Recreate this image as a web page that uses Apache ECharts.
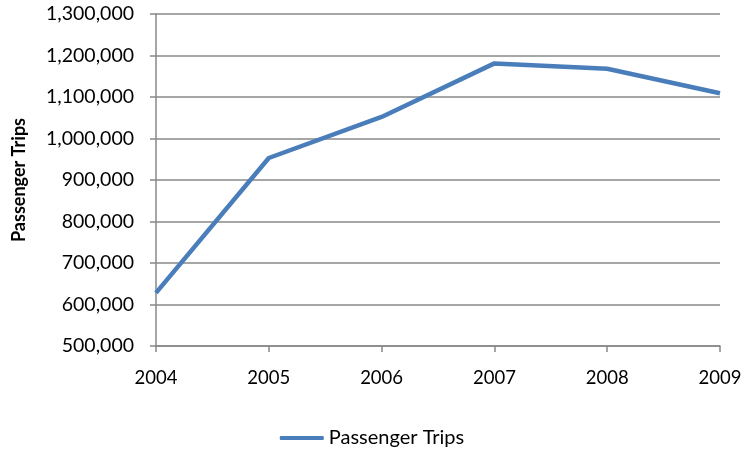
<!DOCTYPE html>
<html>
<head>
<meta charset="utf-8">
<script src="https://cdn.jsdelivr.net/npm/echarts@6/dist/echarts.min.js"></script>
<style>
  html, body { margin: 0; padding: 0; background: #fff; }
  #chart { width: 744px; height: 449px; }
</style>
</head>
<body>
<div id="chart"></div>
<script>
const years = ['2004', '2005', '2006', '2007', '2008', '2009'];
const passengerTrips = [628000, 953000, 1052000, 1181000, 1168000, 1109000];
const seriesName = 'Passenger Trips';
const axisTitle = 'Passenger Trips';

const font = 'Lato, "Open Sans", sans-serif';
const chart = echarts.init(document.getElementById('chart'));

chart.setOption({
  animation: false,
  grid: { left: 156, right: 24, top: 14, bottom: 103, containLabel: false, outerBoundsMode: 'none' },
  legend: {
    data: [seriesName],
    top: 423,
    left: 'center',
    itemWidth: 44,
    itemHeight: 4,
    itemGap: 4,
    icon: 'roundRect',
    textStyle: { fontFamily: font, fontSize: 20, color: '#000' }
  },
  xAxis: {
    type: 'category',
    data: years,
    boundaryGap: false,
    axisLine: { lineStyle: { color: '#888', width: 1.5 } },
    axisTick: { show: true, length: 6, lineStyle: { color: '#888', width: 1.5 } },
    axisLabel: { fontFamily: font, fontSize: 18.5, color: '#000', margin: 23 }
  },
  yAxis: {
    type: 'value',
    min: 500000,
    max: 1300000,
    interval: 100000,
    name: axisTitle,
    nameLocation: 'middle',
    nameGap: 128,
    nameTextStyle: { fontFamily: font, fontSize: 18, fontWeight: 'bold', color: '#000' },
    axisLine: { show: true, lineStyle: { color: '#888', width: 1.5 } },
    axisTick: { show: true, length: 6, lineStyle: { color: '#888', width: 1.5 } },
    axisLabel: {
      fontFamily: font, fontSize: 19.5, color: '#000', margin: 22,
      formatter: v => v.toLocaleString('en-US')
    },
    splitLine: { lineStyle: { color: '#888', width: 1.5 } }
  },
  series: [{
    name: seriesName,
    type: 'line',
    data: passengerTrips,
    showSymbol: false,
    lineStyle: { color: '#4a7ebb', width: 4.5 },
    itemStyle: { color: '#4a7ebb' }
  }]
});
</script>
</body>
</html>
